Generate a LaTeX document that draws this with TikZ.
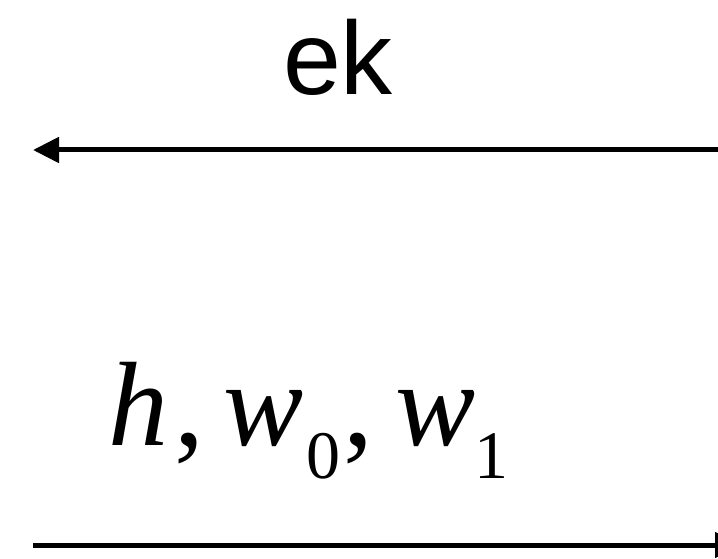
\documentclass[tikz,border=0pt]{standalone}
\usepackage{fontspec}
\setmainfont{Liberation Serif}
\newfontfamily\labsans{Liberation Sans}
\usetikzlibrary{arrows.meta}
\tikzset{
  conn/.style={line width=5bp, -{Triangle[length=26bp,width=25bp]}},
  lbl/.style={inner sep=0pt, anchor=base},
}
\newcommand{\mysub}[1]{\raisebox{-33bp}{\fontsize{68bp}{68bp}\selectfont\upshape #1}}
\begin{document}
\begin{tikzpicture}[x=1bp,y=-1bp]
  \useasboundingbox (0,0) rectangle (718,559);
  \clip (0,0) rectangle (718,559);
  \node[lbl] (ek) at (338,95) {\fontsize{104bp}{104bp}\selectfont\labsans ek};
  \node[lbl, anchor=base west] (hw) at (108,445) {\fontsize{120bp}{120bp}\selectfont
    \itshape h\kern6bp\upshape,\kern19bp\itshape w\kern3bp\mysub{0}\kern3bp\upshape,\kern22bp\itshape w\kern-0.5bp\mysub{1}};
  \coordinate (tr) at (718,150);
  \coordinate (tl) at (33,150);
  \coordinate (bl) at (33,545);
  \coordinate (br) at (741,545);
  \draw[conn] (tr) -- (tl);
  \draw[conn] (bl) -- (br);
\end{tikzpicture}
\end{document}
